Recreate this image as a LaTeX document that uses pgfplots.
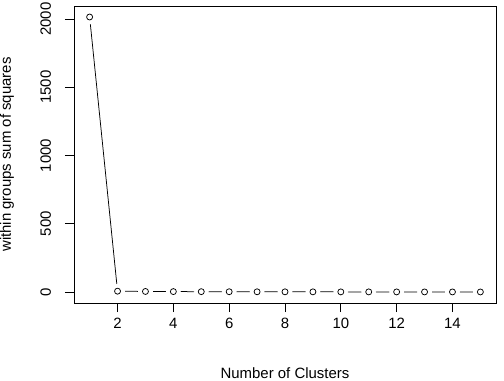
\documentclass[border=0pt]{standalone}
\usepackage{pgfplots}
\pgfplotsset{compat=1.18}
\usepackage{fontspec}
\setmainfont{Liberation Sans}
\pgfplotstableread{
x y
1 2015
2 6
3 4
4 3
5 2.5
6 2
7 1.6
8 1.3
9 1.1
10 0.9
11 0.8
12 0.7
13 0.6
14 0.5
15 0.4
}\wss
\begin{document}
\begin{tikzpicture}
\begin{axis}[
  scale only axis,
  width=422bp, height=297bp,
  xmin=0.44, xmax=15.56,
  ymin=-80.6, ymax=2095.6,
  axis line style={line width=0.75bp},
  xtick={2,4,...,14},
  ytick={0,500,1000,1500,2000},
  tick align=outside,
  xtick pos=bottom, ytick pos=left,
  major tick length=9bp,
  tick style={line width=0.75bp, black},
  /pgf/number format/assume math mode=true,
  /pgf/number format/set thousands separator={},
  tick label style={font=\fontsize{15}{18}\selectfont},
  xticklabel style={inner sep=0pt, anchor=north, yshift=-6bp},
  yticklabel style={rotate=90, inner sep=0pt, anchor=base, yshift=14bp},
  label style={font=\fontsize{15}{18}\selectfont},
  xlabel={Number of Clusters},
  ylabel={within groups sum of squares},
  xlabel style={at={(rel axis cs:0.5,0)}, anchor=base, inner sep=0pt, yshift=-75bp},
  ylabel style={at={(rel axis cs:0,0.5)}, anchor=base, inner sep=0pt, yshift=63bp},
  clip=false,
]
\coordinate (sw) at (rel axis cs:0,0);
\coordinate (ne) at (rel axis cs:1,1);
\addplot[black, line width=0.75bp, mark=*, mark size=7bp, mark options={solid, draw=white, fill=white}] table {\wss};
\addplot[black, only marks, mark=o, mark size=3bp, mark options={line width=0.75bp, black}] table {\wss};
\end{axis}
\pgfresetboundingbox
\path[use as bounding box] ([shift={(-74bp,-78bp)}]sw) rectangle ([shift={(8bp,6bp)}]ne);
\end{tikzpicture}
\end{document}
